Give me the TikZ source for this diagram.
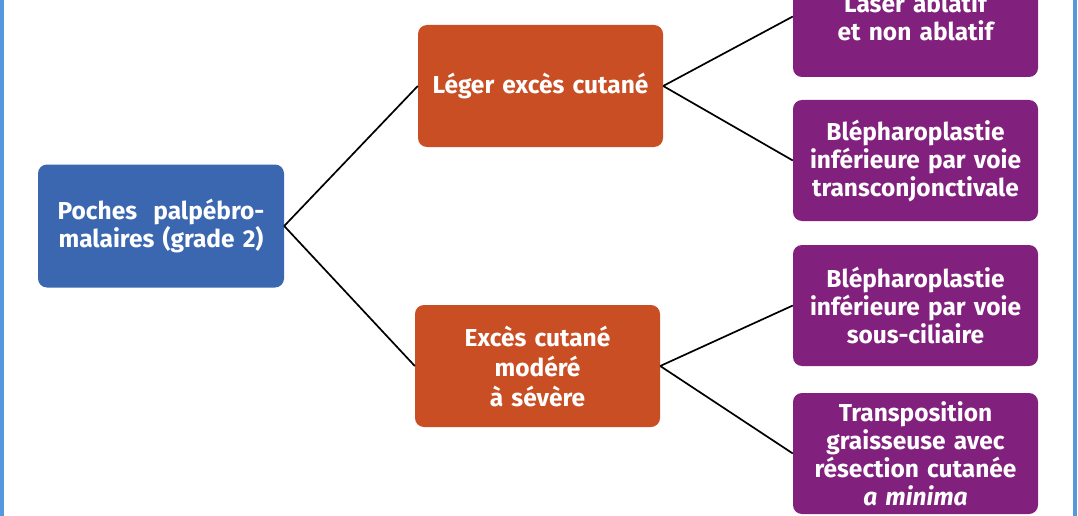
\documentclass[tikz,border=0pt]{standalone}
\usepackage{fontspec}
\setmainfont{Fira Sans}
\definecolor{nodeblue}{RGB}{59,103,177}
\definecolor{nodeorange}{RGB}{201,78,35}
\definecolor{nodepurple}{RGB}{130,32,125}
\definecolor{frameblue}{RGB}{86,152,222}
\begin{document}
\begin{tikzpicture}[x=1pt,y=-1pt,
  box/.style={rounded corners=9pt, minimum width=245pt, minimum height=122pt,
    text width=240pt, align=center, text=white, inner sep=0pt,
    font=\bfseries\fontsize{24.5}{28}\selectfont},
  bluebox/.style={box, fill=nodeblue, minimum width=246pt, minimum height=123pt},
  orangebox/.style={box, fill=nodeorange},
  purplebox/.style={box, fill=nodepurple, minimum height=121pt},
  link/.style={draw=black, line width=1.7pt}]
\useasboundingbox (0,0) rectangle (1078,516);
\clip (0,0) rectangle (1078,516);
\fill[white] (0,0) rectangle (1078,516);
\draw[frameblue, line width=3.5pt] (1.75,-5) -- (1.75,521);
\draw[frameblue, line width=3.5pt] (1075,-5) -- (1075,521);
\node[bluebox] (root) at (161,226) {Poches\ \ palpébro-\\malaires (grade 2)};
\node[orangebox] (leger) at (540.5,86) {Léger excès cutané};
\node[orangebox, font=\bfseries\fontsize{24.5}{30}\selectfont] (modere) at (537.5,366) {Excès cutané\\modéré\\à sévère};
\node[purplebox] (laser) at (915.5,16.5) {Laser ablatif\\et non ablatif};
\node[purplebox] (transconj) at (915.5,160.5) {Blépharoplastie\\inférieure par voie\\transconjonctivale};
\node[purplebox] (sousc) at (915.5,305.5) {Blépharoplastie\\inférieure par voie\\sous-ciliaire};
\node[purplebox] (transpo) at (915.5,453.5) {Transposition\\graisseuse avec\\résection cutanée\\\textit{a minima}};
\draw[link] (root.east) -- (leger.west);
\draw[link] (root.east) -- (modere.west);
\draw[link] (leger.east) -- (laser.west);
\draw[link] (leger.east) -- (transconj.west);
\draw[link] (modere.east) -- (sousc.west);
\draw[link] (modere.east) -- (transpo.west);
\end{tikzpicture}
\end{document}
